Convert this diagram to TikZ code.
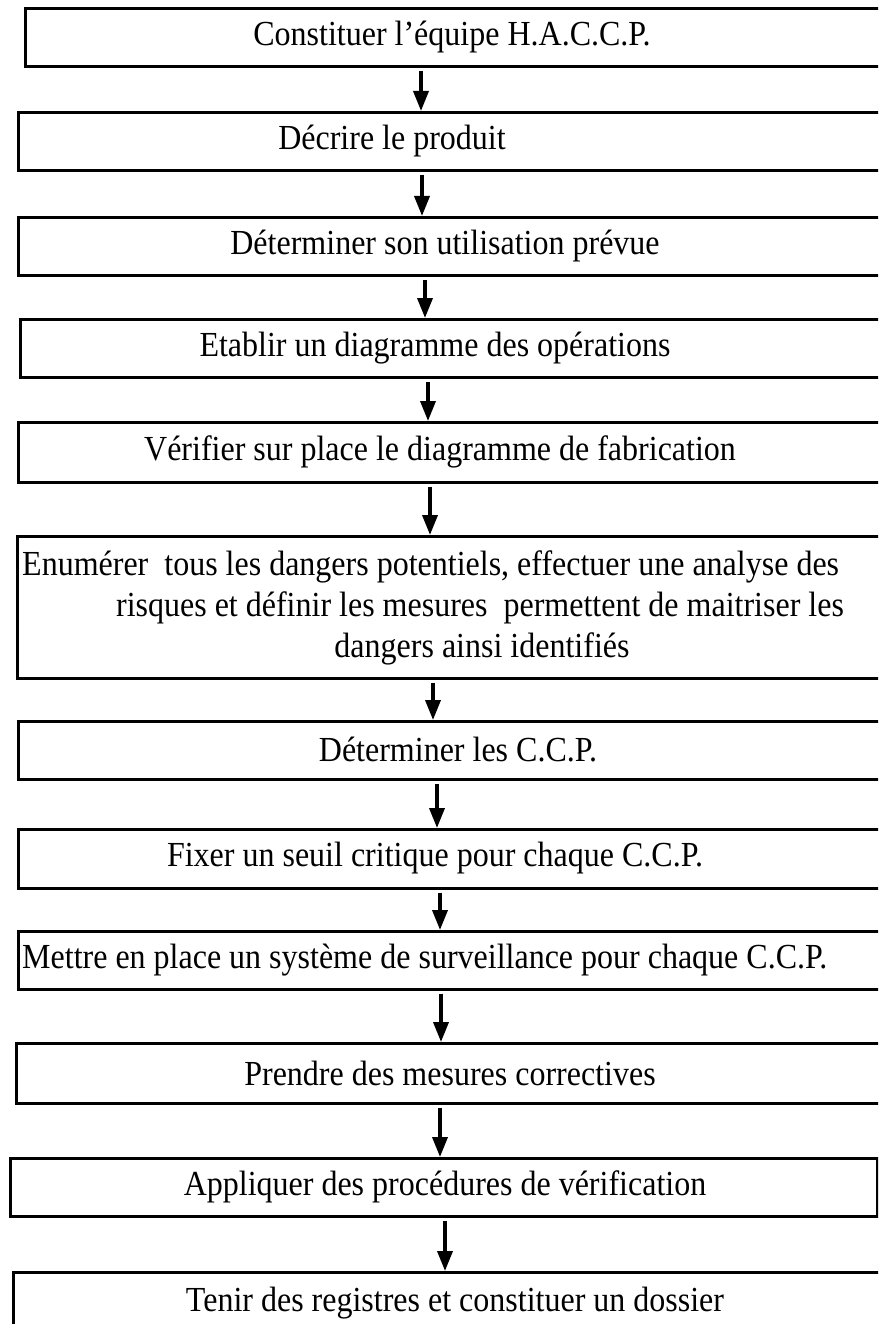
\documentclass[tikz,border=0pt]{standalone}
\usepackage{fontspec}
\setmainfont{Liberation Serif}
\usetikzlibrary{arrows.meta}
\begin{document}
\begin{tikzpicture}[x=1pt,y=-1pt,
  stepbox/.style={draw,line width=2.6pt,rectangle,inner sep=0pt,anchor=north west},
  txt/.style={inner sep=0pt,yscale=1.1,transform shape,font=\fontsize{32}{38}\selectfont},
  arr/.style={line width=3.6pt,-{Triangle[length=20pt,width=15pt]},shorten <=3pt}]
\useasboundingbox (0,0) rectangle (878,1324);
\clip (0,0) rectangle (878,1324);
% boxes
\node[stepbox,minimum width=900pt,minimum height=58pt] (b1) at (24,7) {};
\node[stepbox,minimum width=900pt,minimum height=58pt] (b2) at (17,111) {};
\node[stepbox,minimum width=900pt,minimum height=58pt] (b3) at (17,216) {};
\node[stepbox,minimum width=900pt,minimum height=58pt] (b4) at (19,318) {};
\node[stepbox,minimum width=900pt,minimum height=60pt] (b5) at (17,421) {};
\node[stepbox,minimum width=900pt,minimum height=142pt] (b6) at (16,535) {};
\node[stepbox,minimum width=900pt,minimum height=58pt] (b7) at (17,720) {};
\node[stepbox,minimum width=900pt,minimum height=59pt] (b8) at (17,828) {};
\node[stepbox,minimum width=900pt,minimum height=58pt] (b9) at (17,930) {};
\node[stepbox,minimum width=900pt,minimum height=60pt] (b10) at (15,1042) {};
\node[stepbox,minimum width=867pt,minimum height=58pt] (b11) at (9,1157) {};
\node[stepbox,minimum width=900pt,minimum height=80pt] (b12) at (12,1271) {};
% texts
\node[txt] (t1) at (452,37) {Constituer l’équipe H.A.C.C.P.};
\node[txt] (t2) at (392,141) {Décrire le produit};
\node[txt] (t3) at (445,246) {Déterminer son utilisation prévue};
\node[txt] (t4) at (435,348) {Etablir un diagramme des opérations};
\node[txt] (t5) at (440,452) {Vérifier sur place le diagramme de fabrication};
\node[txt,anchor=west] (t6a) at (22,567) {Enumérer\ \ tous les dangers potentiels, effectuer une analyse des};
\node[txt] (t6b) at (480,608) {risques et définir les mesures\ \ permettent de maitriser les};
\node[txt] (t6c) at (482,649) {dangers ainsi identifiés};
\node[txt] (t7) at (458,750) {Déterminer les C.C.P.};
\node[txt] (t8) at (435,858) {Fixer un seuil critique pour chaque C.C.P.};
\node[txt,anchor=west] (t9) at (22,960) {Mettre en place un système de surveillance pour chaque C.C.P.};
\node[txt] (t10) at (450,1073) {Prendre des mesures correctives};
\node[txt] (t11) at (445,1187) {Appliquer des procédures de vérification};
\node[txt] (t12) at (455,1303) {Tenir des registres et constituer un dossier};
% arrow x positions
\coordinate (x1) at (421,0);
\coordinate (x2) at (422,0);
\coordinate (x3) at (425,0);
\coordinate (x4) at (428,0);
\coordinate (x5) at (430,0);
\coordinate (x6) at (433,0);
\coordinate (x7) at (437,0);
\coordinate (x8) at (440,0);
\coordinate (x9) at (441,0);
\coordinate (x10) at (440,0);
\coordinate (x11) at (445,0);
\draw[arr] (b1.south -| x1) -- (b2.north -| x1);
\draw[arr] (b2.south -| x2) -- (b3.north -| x2);
\draw[arr] (b3.south -| x3) -- (b4.north -| x3);
\draw[arr] (b4.south -| x4) -- (b5.north -| x4);
\draw[arr] (b5.south -| x5) -- (b6.north -| x5);
\draw[arr] (b6.south -| x6) -- (b7.north -| x6);
\draw[arr] (b7.south -| x7) -- (b8.north -| x7);
\draw[arr] (b8.south -| x8) -- (b9.north -| x8);
\draw[arr] (b9.south -| x9) -- (b10.north -| x9);
\draw[arr] (b10.south -| x10) -- (b11.north -| x10);
\draw[arr] (b11.south -| x11) -- (b12.north -| x11);
\end{tikzpicture}
\end{document}
